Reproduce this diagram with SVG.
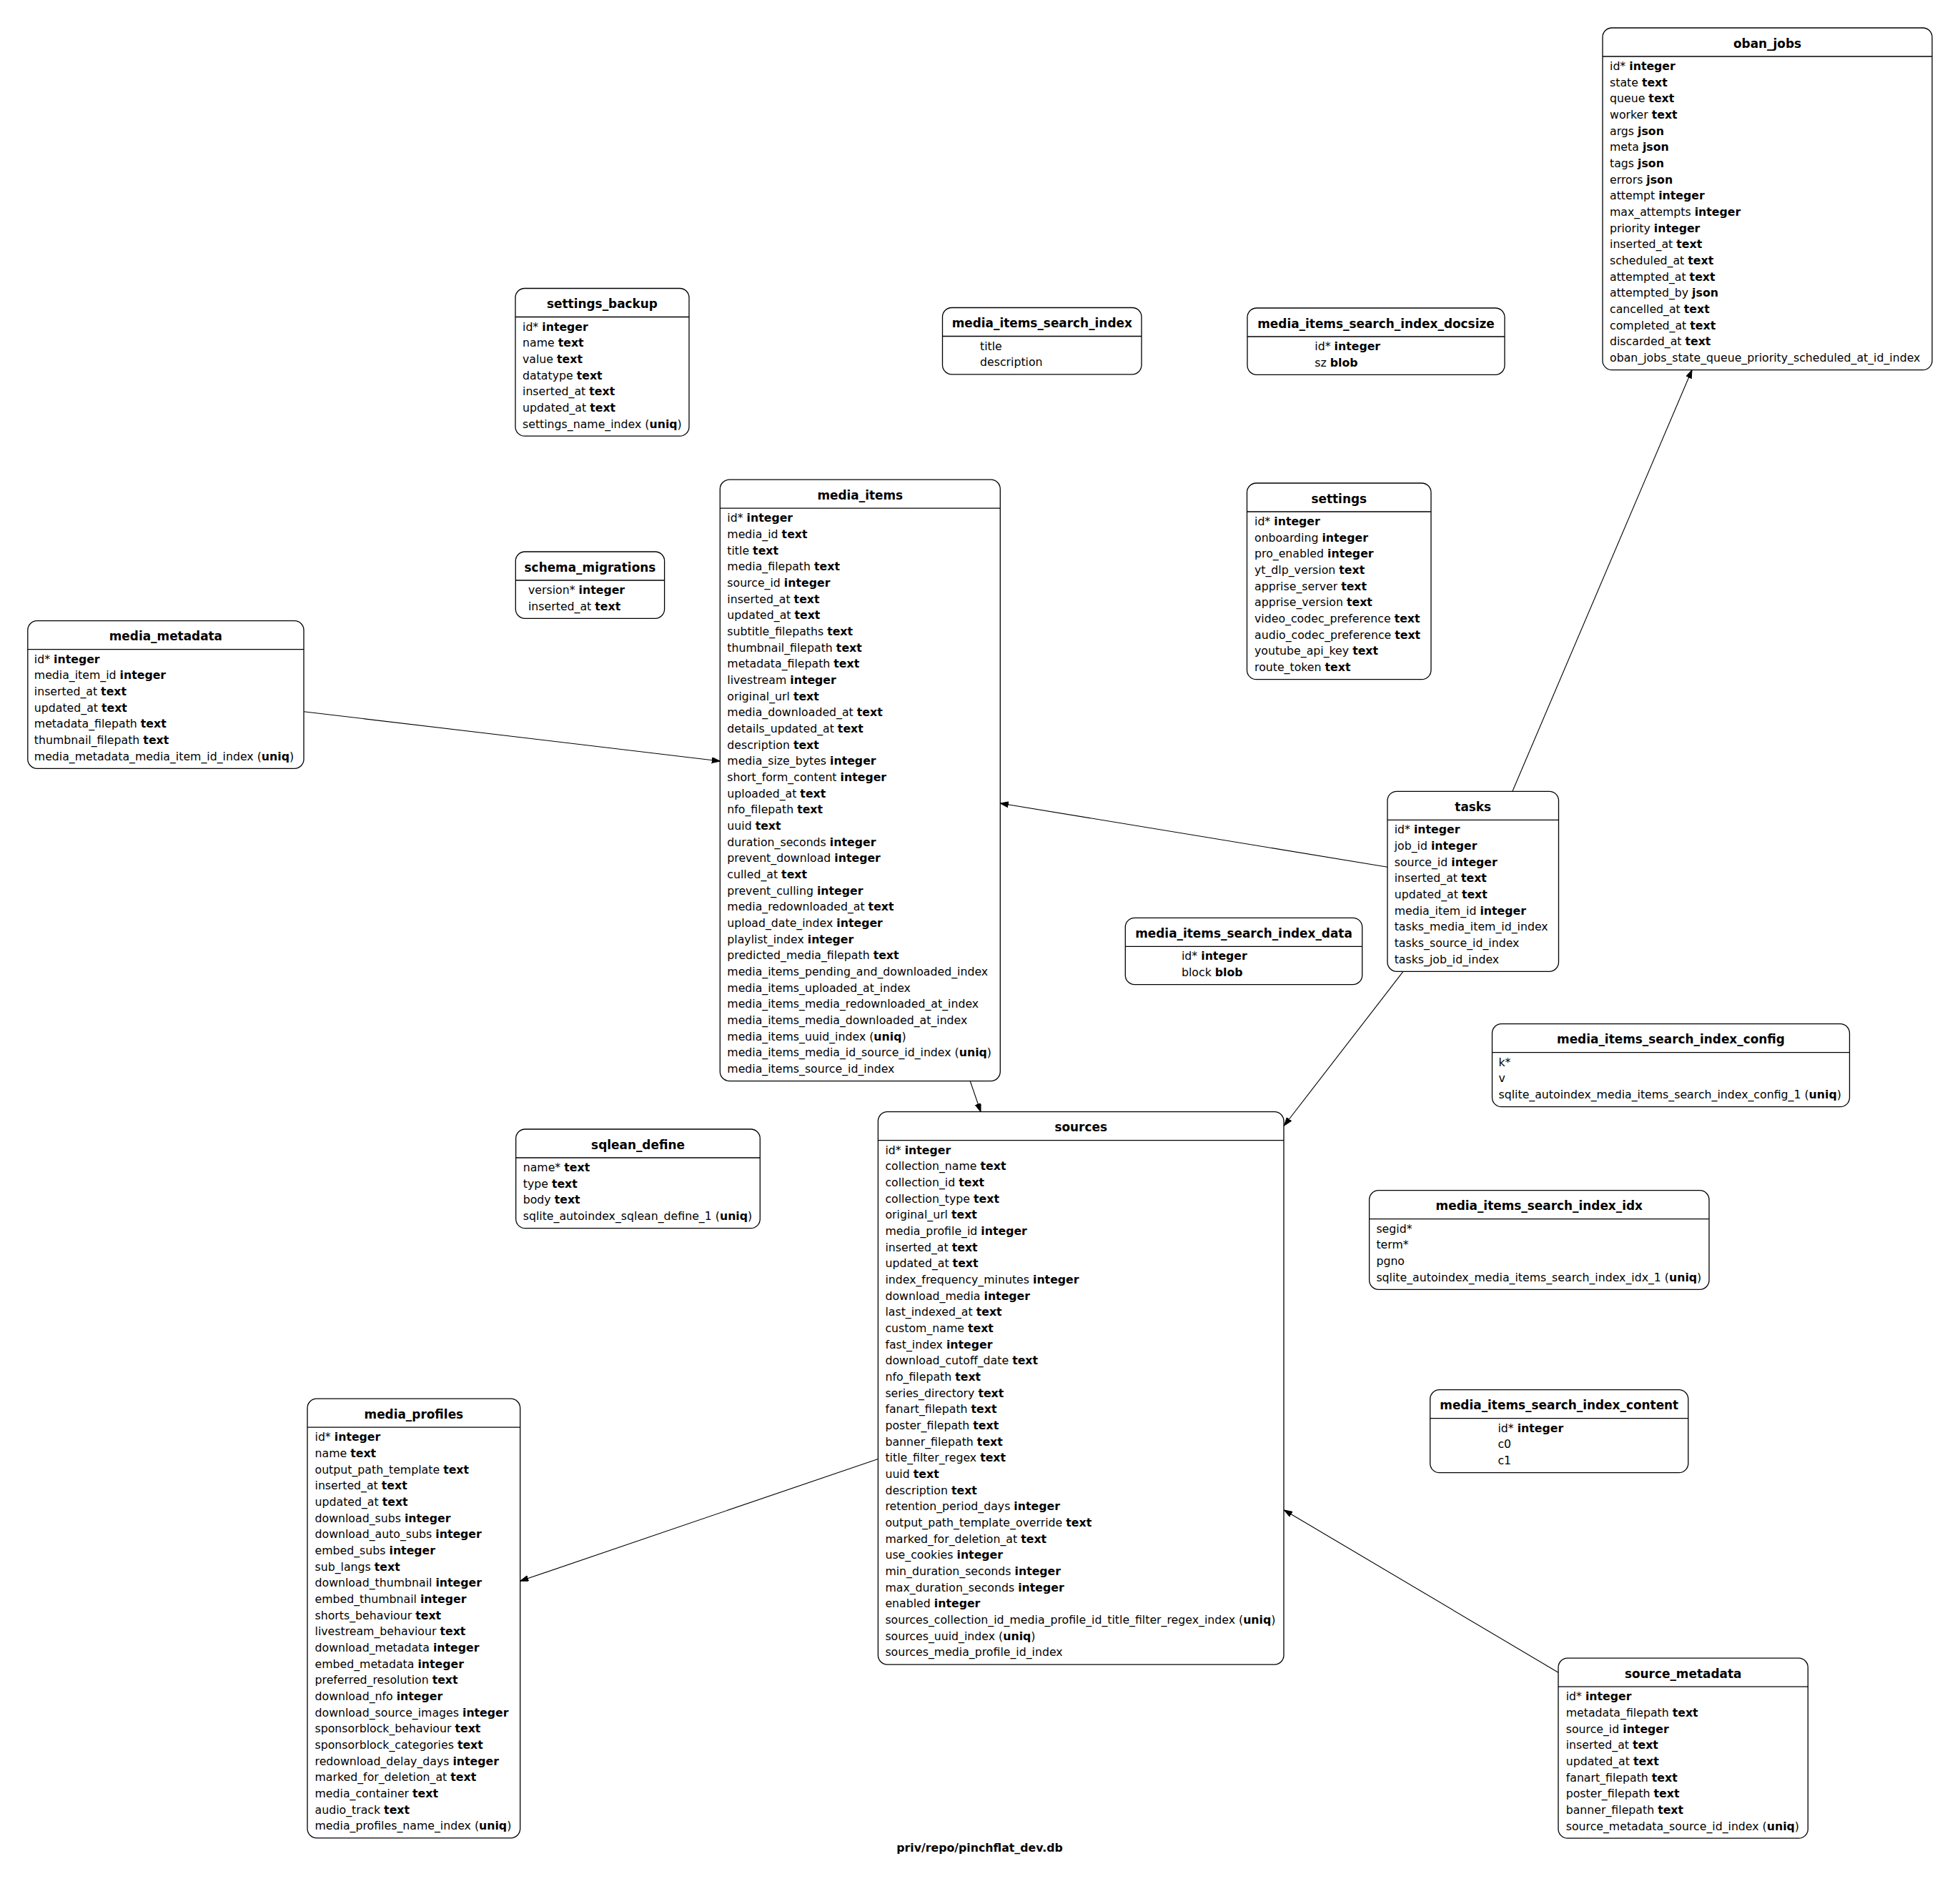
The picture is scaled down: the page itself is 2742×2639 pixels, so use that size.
<svg xmlns="http://www.w3.org/2000/svg" width="2742" height="2639" viewBox="0 0 2742 2639">
<style>
.box{fill:#fff;stroke:#000;stroke-width:1.3}
.sep{stroke:#000;stroke-width:1.3}
.t{font-family:"DejaVu Sans",sans-serif;font-size:16.9px;font-weight:bold;text-anchor:middle;fill:#000}
.r{font-family:"DejaVu Sans",sans-serif;font-size:15.75px;fill:#000}
.b{font-weight:bold}
.edge{stroke:#000;stroke-width:1.1;fill:none}
.lbl{font-family:"DejaVu Sans",sans-serif;font-size:15.75px;font-weight:bold;text-anchor:middle;fill:#000}
</style>
<defs>
<marker id="arr" markerUnits="userSpaceOnUse" markerWidth="13" markerHeight="10" refX="11.5" refY="4" orient="auto">
<path d="M0,0 L11.5,4 L0,8 z" fill="#000" stroke="#000" stroke-width="1"/>
</marker>
</defs>
<rect x="0" y="0" width="2742" height="2639" fill="#fff"/>

<g id="connectors">
<line class="edge" x1="425" y1="995.7" x2="1007.3" y2="1065" marker-end="url(#arr)"/>
<line class="edge" x1="1941" y1="1213.3" x2="1399.3" y2="1124" marker-end="url(#arr)"/>
<line class="edge" x1="2116" y1="1107" x2="2367" y2="517.7" marker-end="url(#arr)"/>
<line class="edge" x1="1963" y1="1359.3" x2="1796.5" y2="1575" marker-end="url(#arr)"/>
<line class="edge" x1="1357" y1="1512" x2="1372" y2="1555.7" marker-end="url(#arr)"/>
<line class="edge" x1="1228.4" y1="2041.5" x2="727.7" y2="2212.3" marker-end="url(#arr)"/>
<line class="edge" x1="2180" y1="2340.2" x2="1796.5" y2="2113" marker-end="url(#arr)"/>
</g>

<g id="oban_jobs" transform="translate(2242,39)">
<rect class="box" x="0" y="0" width="461" height="478.67" rx="13"/>
<line class="sep" x1="0" y1="40" x2="461" y2="40"/>
<text class="t" x="230.5" y="27.5">oban_jobs</text>
<text class="r" x="10" y="59">id* <tspan class="b">integer</tspan></text>
<text class="r" x="10" y="81.67">state <tspan class="b">text</tspan></text>
<text class="r" x="10" y="104.33">queue <tspan class="b">text</tspan></text>
<text class="r" x="10" y="127">worker <tspan class="b">text</tspan></text>
<text class="r" x="10" y="149.67">args <tspan class="b">json</tspan></text>
<text class="r" x="10" y="172.33">meta <tspan class="b">json</tspan></text>
<text class="r" x="10" y="195">tags <tspan class="b">json</tspan></text>
<text class="r" x="10" y="217.67">errors <tspan class="b">json</tspan></text>
<text class="r" x="10" y="240.33">attempt <tspan class="b">integer</tspan></text>
<text class="r" x="10" y="263">max_attempts <tspan class="b">integer</tspan></text>
<text class="r" x="10" y="285.67">priority <tspan class="b">integer</tspan></text>
<text class="r" x="10" y="308.33">inserted_at <tspan class="b">text</tspan></text>
<text class="r" x="10" y="331">scheduled_at <tspan class="b">text</tspan></text>
<text class="r" x="10" y="353.67">attempted_at <tspan class="b">text</tspan></text>
<text class="r" x="10" y="376.33">attempted_by <tspan class="b">json</tspan></text>
<text class="r" x="10" y="399">cancelled_at <tspan class="b">text</tspan></text>
<text class="r" x="10" y="421.67">completed_at <tspan class="b">text</tspan></text>
<text class="r" x="10" y="444.33">discarded_at <tspan class="b">text</tspan></text>
<text class="r" x="10" y="467">oban_jobs_state_queue_priority_scheduled_at_id_index</text>
</g>

<g id="settings_backup" transform="translate(721,403.5)">
<rect class="box" x="0" y="0" width="243" height="206.67" rx="13"/>
<line class="sep" x1="0" y1="40" x2="243" y2="40"/>
<text class="t" x="121.5" y="27.5">settings_backup</text>
<text class="r" x="10" y="59">id* <tspan class="b">integer</tspan></text>
<text class="r" x="10" y="81.67">name <tspan class="b">text</tspan></text>
<text class="r" x="10" y="104.33">value <tspan class="b">text</tspan></text>
<text class="r" x="10" y="127">datatype <tspan class="b">text</tspan></text>
<text class="r" x="10" y="149.67">inserted_at <tspan class="b">text</tspan></text>
<text class="r" x="10" y="172.33">updated_at <tspan class="b">text</tspan></text>
<text class="r" x="10" y="195">settings_name_index (<tspan class="b">uniq</tspan>)</text>
</g>

<g id="media_items_search_index" transform="translate(1318.5,430.5)">
<rect class="box" x="0" y="0" width="278.5" height="93.33" rx="13"/>
<line class="sep" x1="0" y1="40" x2="278.5" y2="40"/>
<text class="t" x="139.25" y="27.5">media_items_search_index</text>
<text class="r" x="52.5" y="59">title</text>
<text class="r" x="52.5" y="81.67">description</text>
</g>

<g id="media_items_search_index_docsize" transform="translate(1745,431)">
<rect class="box" x="0" y="0" width="360" height="93.33" rx="13"/>
<line class="sep" x1="0" y1="40" x2="360" y2="40"/>
<text class="t" x="180" y="27.5">media_items_search_index_docsize</text>
<text class="r" x="94.3" y="59">id* <tspan class="b">integer</tspan></text>
<text class="r" x="94.3" y="81.67">sz <tspan class="b">blob</tspan></text>
</g>

<g id="schema_migrations" transform="translate(721.3,772)">
<rect class="box" x="0" y="0" width="208.3" height="93.33" rx="13"/>
<line class="sep" x1="0" y1="40" x2="208.3" y2="40"/>
<text class="t" x="104.15" y="27.5">schema_migrations</text>
<text class="r" x="17.7" y="59">version* <tspan class="b">integer</tspan></text>
<text class="r" x="17.7" y="81.67">inserted_at <tspan class="b">text</tspan></text>
</g>

<g id="settings" transform="translate(1744.5,676)">
<rect class="box" x="0" y="0" width="257.5" height="274.67" rx="13"/>
<line class="sep" x1="0" y1="40" x2="257.5" y2="40"/>
<text class="t" x="128.75" y="27.5">settings</text>
<text class="r" x="10.5" y="59">id* <tspan class="b">integer</tspan></text>
<text class="r" x="10.5" y="81.67">onboarding <tspan class="b">integer</tspan></text>
<text class="r" x="10.5" y="104.33">pro_enabled <tspan class="b">integer</tspan></text>
<text class="r" x="10.5" y="127">yt_dlp_version <tspan class="b">text</tspan></text>
<text class="r" x="10.5" y="149.67">apprise_server <tspan class="b">text</tspan></text>
<text class="r" x="10.5" y="172.33">apprise_version <tspan class="b">text</tspan></text>
<text class="r" x="10.5" y="195">video_codec_preference <tspan class="b">text</tspan></text>
<text class="r" x="10.5" y="217.67">audio_codec_preference <tspan class="b">text</tspan></text>
<text class="r" x="10.5" y="240.33">youtube_api_key <tspan class="b">text</tspan></text>
<text class="r" x="10.5" y="263">route_token <tspan class="b">text</tspan></text>
</g>

<g id="media_metadata" transform="translate(38.8,868.7)">
<rect class="box" x="0" y="0" width="386.2" height="206.67" rx="13"/>
<line class="sep" x1="0" y1="40" x2="386.2" y2="40"/>
<text class="t" x="193.1" y="27.5">media_metadata</text>
<text class="r" x="9" y="59">id* <tspan class="b">integer</tspan></text>
<text class="r" x="9" y="81.67">media_item_id <tspan class="b">integer</tspan></text>
<text class="r" x="9" y="104.33">inserted_at <tspan class="b">text</tspan></text>
<text class="r" x="9" y="127">updated_at <tspan class="b">text</tspan></text>
<text class="r" x="9" y="149.67">metadata_filepath <tspan class="b">text</tspan></text>
<text class="r" x="9" y="172.33">thumbnail_filepath <tspan class="b">text</tspan></text>
<text class="r" x="9" y="195">media_metadata_media_item_id_index (<tspan class="b">uniq</tspan>)</text>
</g>

<g id="media_items" transform="translate(1007.3,671.2)">
<rect class="box" x="0" y="0" width="392" height="841.33" rx="13"/>
<line class="sep" x1="0" y1="40" x2="392" y2="40"/>
<text class="t" x="196" y="27.5">media_items</text>
<text class="r" x="10" y="59">id* <tspan class="b">integer</tspan></text>
<text class="r" x="10" y="81.67">media_id <tspan class="b">text</tspan></text>
<text class="r" x="10" y="104.33">title <tspan class="b">text</tspan></text>
<text class="r" x="10" y="127">media_filepath <tspan class="b">text</tspan></text>
<text class="r" x="10" y="149.67">source_id <tspan class="b">integer</tspan></text>
<text class="r" x="10" y="172.33">inserted_at <tspan class="b">text</tspan></text>
<text class="r" x="10" y="195">updated_at <tspan class="b">text</tspan></text>
<text class="r" x="10" y="217.67">subtitle_filepaths <tspan class="b">text</tspan></text>
<text class="r" x="10" y="240.33">thumbnail_filepath <tspan class="b">text</tspan></text>
<text class="r" x="10" y="263">metadata_filepath <tspan class="b">text</tspan></text>
<text class="r" x="10" y="285.67">livestream <tspan class="b">integer</tspan></text>
<text class="r" x="10" y="308.33">original_url <tspan class="b">text</tspan></text>
<text class="r" x="10" y="331">media_downloaded_at <tspan class="b">text</tspan></text>
<text class="r" x="10" y="353.67">details_updated_at <tspan class="b">text</tspan></text>
<text class="r" x="10" y="376.33">description <tspan class="b">text</tspan></text>
<text class="r" x="10" y="399">media_size_bytes <tspan class="b">integer</tspan></text>
<text class="r" x="10" y="421.67">short_form_content <tspan class="b">integer</tspan></text>
<text class="r" x="10" y="444.33">uploaded_at <tspan class="b">text</tspan></text>
<text class="r" x="10" y="467">nfo_filepath <tspan class="b">text</tspan></text>
<text class="r" x="10" y="489.67">uuid <tspan class="b">text</tspan></text>
<text class="r" x="10" y="512.33">duration_seconds <tspan class="b">integer</tspan></text>
<text class="r" x="10" y="535">prevent_download <tspan class="b">integer</tspan></text>
<text class="r" x="10" y="557.67">culled_at <tspan class="b">text</tspan></text>
<text class="r" x="10" y="580.33">prevent_culling <tspan class="b">integer</tspan></text>
<text class="r" x="10" y="603">media_redownloaded_at <tspan class="b">text</tspan></text>
<text class="r" x="10" y="625.67">upload_date_index <tspan class="b">integer</tspan></text>
<text class="r" x="10" y="648.33">playlist_index <tspan class="b">integer</tspan></text>
<text class="r" x="10" y="671">predicted_media_filepath <tspan class="b">text</tspan></text>
<text class="r" x="10" y="693.67">media_items_pending_and_downloaded_index</text>
<text class="r" x="10" y="716.33">media_items_uploaded_at_index</text>
<text class="r" x="10" y="739">media_items_media_redownloaded_at_index</text>
<text class="r" x="10" y="761.67">media_items_media_downloaded_at_index</text>
<text class="r" x="10" y="784.33">media_items_uuid_index (<tspan class="b">uniq</tspan>)</text>
<text class="r" x="10" y="807">media_items_media_id_source_id_index (<tspan class="b">uniq</tspan>)</text>
<text class="r" x="10" y="829.67">media_items_source_id_index</text>
</g>

<g id="tasks" transform="translate(1941,1107.3)">
<rect class="box" x="0" y="0" width="239.5" height="252" rx="13"/>
<line class="sep" x1="0" y1="40" x2="239.5" y2="40"/>
<text class="t" x="119.75" y="27.5">tasks</text>
<text class="r" x="9.7" y="59">id* <tspan class="b">integer</tspan></text>
<text class="r" x="9.7" y="81.67">job_id <tspan class="b">integer</tspan></text>
<text class="r" x="9.7" y="104.33">source_id <tspan class="b">integer</tspan></text>
<text class="r" x="9.7" y="127">inserted_at <tspan class="b">text</tspan></text>
<text class="r" x="9.7" y="149.67">updated_at <tspan class="b">text</tspan></text>
<text class="r" x="9.7" y="172.33">media_item_id <tspan class="b">integer</tspan></text>
<text class="r" x="9.7" y="195">tasks_media_item_id_index</text>
<text class="r" x="9.7" y="217.67">tasks_source_id_index</text>
<text class="r" x="9.7" y="240.33">tasks_job_id_index</text>
</g>

<g id="media_items_search_index_data" transform="translate(1574.3,1284.3)">
<rect class="box" x="0" y="0" width="331.4" height="93.33" rx="13"/>
<line class="sep" x1="0" y1="40" x2="331.4" y2="40"/>
<text class="t" x="165.7" y="27.5">media_items_search_index_data</text>
<text class="r" x="78.7" y="59">id* <tspan class="b">integer</tspan></text>
<text class="r" x="78.7" y="81.67">block <tspan class="b">blob</tspan></text>
</g>

<g id="media_items_search_index_config" transform="translate(2087.5,1432.7)">
<rect class="box" x="0" y="0" width="500" height="116" rx="13"/>
<line class="sep" x1="0" y1="40" x2="500" y2="40"/>
<text class="t" x="250" y="27.5">media_items_search_index_config</text>
<text class="r" x="9" y="59">k*</text>
<text class="r" x="9" y="81.67">v</text>
<text class="r" x="9" y="104.33">sqlite_autoindex_media_items_search_index_config_1 (<tspan class="b">uniq</tspan>)</text>
</g>

<g id="sqlean_define" transform="translate(721.7,1580)">
<rect class="box" x="0" y="0" width="341.6" height="138.67" rx="13"/>
<line class="sep" x1="0" y1="40" x2="341.6" y2="40"/>
<text class="t" x="170.8" y="27.5">sqlean_define</text>
<text class="r" x="10" y="59">name* <tspan class="b">text</tspan></text>
<text class="r" x="10" y="81.67">type <tspan class="b">text</tspan></text>
<text class="r" x="10" y="104.33">body <tspan class="b">text</tspan></text>
<text class="r" x="10" y="127">sqlite_autoindex_sqlean_define_1 (<tspan class="b">uniq</tspan>)</text>
</g>

<g id="sources" transform="translate(1228.4,1555.7)">
<rect class="box" x="0" y="0" width="567.6" height="773.33" rx="13"/>
<line class="sep" x1="0" y1="40" x2="567.6" y2="40"/>
<text class="t" x="283.8" y="27.5">sources</text>
<text class="r" x="10" y="59">id* <tspan class="b">integer</tspan></text>
<text class="r" x="10" y="81.67">collection_name <tspan class="b">text</tspan></text>
<text class="r" x="10" y="104.33">collection_id <tspan class="b">text</tspan></text>
<text class="r" x="10" y="127">collection_type <tspan class="b">text</tspan></text>
<text class="r" x="10" y="149.67">original_url <tspan class="b">text</tspan></text>
<text class="r" x="10" y="172.33">media_profile_id <tspan class="b">integer</tspan></text>
<text class="r" x="10" y="195">inserted_at <tspan class="b">text</tspan></text>
<text class="r" x="10" y="217.67">updated_at <tspan class="b">text</tspan></text>
<text class="r" x="10" y="240.33">index_frequency_minutes <tspan class="b">integer</tspan></text>
<text class="r" x="10" y="263">download_media <tspan class="b">integer</tspan></text>
<text class="r" x="10" y="285.67">last_indexed_at <tspan class="b">text</tspan></text>
<text class="r" x="10" y="308.33">custom_name <tspan class="b">text</tspan></text>
<text class="r" x="10" y="331">fast_index <tspan class="b">integer</tspan></text>
<text class="r" x="10" y="353.67">download_cutoff_date <tspan class="b">text</tspan></text>
<text class="r" x="10" y="376.33">nfo_filepath <tspan class="b">text</tspan></text>
<text class="r" x="10" y="399">series_directory <tspan class="b">text</tspan></text>
<text class="r" x="10" y="421.67">fanart_filepath <tspan class="b">text</tspan></text>
<text class="r" x="10" y="444.33">poster_filepath <tspan class="b">text</tspan></text>
<text class="r" x="10" y="467">banner_filepath <tspan class="b">text</tspan></text>
<text class="r" x="10" y="489.67">title_filter_regex <tspan class="b">text</tspan></text>
<text class="r" x="10" y="512.33">uuid <tspan class="b">text</tspan></text>
<text class="r" x="10" y="535">description <tspan class="b">text</tspan></text>
<text class="r" x="10" y="557.67">retention_period_days <tspan class="b">integer</tspan></text>
<text class="r" x="10" y="580.33">output_path_template_override <tspan class="b">text</tspan></text>
<text class="r" x="10" y="603">marked_for_deletion_at <tspan class="b">text</tspan></text>
<text class="r" x="10" y="625.67">use_cookies <tspan class="b">integer</tspan></text>
<text class="r" x="10" y="648.33">min_duration_seconds <tspan class="b">integer</tspan></text>
<text class="r" x="10" y="671">max_duration_seconds <tspan class="b">integer</tspan></text>
<text class="r" x="10" y="693.67">enabled <tspan class="b">integer</tspan></text>
<text class="r" x="10" y="716.33">sources_collection_id_media_profile_id_title_filter_regex_index (<tspan class="b">uniq</tspan>)</text>
<text class="r" x="10" y="739">sources_uuid_index (<tspan class="b">uniq</tspan>)</text>
<text class="r" x="10" y="761.67">sources_media_profile_id_index</text>
</g>

<g id="media_items_search_index_idx" transform="translate(1915.6,1665.7)">
<rect class="box" x="0" y="0" width="475.4" height="138.67" rx="13"/>
<line class="sep" x1="0" y1="40" x2="475.4" y2="40"/>
<text class="t" x="237.7" y="27.5">media_items_search_index_idx</text>
<text class="r" x="9.8" y="59">segid*</text>
<text class="r" x="9.8" y="81.67">term*</text>
<text class="r" x="9.8" y="104.33">pgno</text>
<text class="r" x="9.8" y="127">sqlite_autoindex_media_items_search_index_idx_1 (<tspan class="b">uniq</tspan>)</text>
</g>

<g id="media_profiles" transform="translate(430,1957.2)">
<rect class="box" x="0" y="0" width="297.7" height="614.67" rx="13"/>
<line class="sep" x1="0" y1="40" x2="297.7" y2="40"/>
<text class="t" x="148.85" y="27.5">media_profiles</text>
<text class="r" x="10.5" y="59">id* <tspan class="b">integer</tspan></text>
<text class="r" x="10.5" y="81.67">name <tspan class="b">text</tspan></text>
<text class="r" x="10.5" y="104.33">output_path_template <tspan class="b">text</tspan></text>
<text class="r" x="10.5" y="127">inserted_at <tspan class="b">text</tspan></text>
<text class="r" x="10.5" y="149.67">updated_at <tspan class="b">text</tspan></text>
<text class="r" x="10.5" y="172.33">download_subs <tspan class="b">integer</tspan></text>
<text class="r" x="10.5" y="195">download_auto_subs <tspan class="b">integer</tspan></text>
<text class="r" x="10.5" y="217.67">embed_subs <tspan class="b">integer</tspan></text>
<text class="r" x="10.5" y="240.33">sub_langs <tspan class="b">text</tspan></text>
<text class="r" x="10.5" y="263">download_thumbnail <tspan class="b">integer</tspan></text>
<text class="r" x="10.5" y="285.67">embed_thumbnail <tspan class="b">integer</tspan></text>
<text class="r" x="10.5" y="308.33">shorts_behaviour <tspan class="b">text</tspan></text>
<text class="r" x="10.5" y="331">livestream_behaviour <tspan class="b">text</tspan></text>
<text class="r" x="10.5" y="353.67">download_metadata <tspan class="b">integer</tspan></text>
<text class="r" x="10.5" y="376.33">embed_metadata <tspan class="b">integer</tspan></text>
<text class="r" x="10.5" y="399">preferred_resolution <tspan class="b">text</tspan></text>
<text class="r" x="10.5" y="421.67">download_nfo <tspan class="b">integer</tspan></text>
<text class="r" x="10.5" y="444.33">download_source_images <tspan class="b">integer</tspan></text>
<text class="r" x="10.5" y="467">sponsorblock_behaviour <tspan class="b">text</tspan></text>
<text class="r" x="10.5" y="489.67">sponsorblock_categories <tspan class="b">text</tspan></text>
<text class="r" x="10.5" y="512.33">redownload_delay_days <tspan class="b">integer</tspan></text>
<text class="r" x="10.5" y="535">marked_for_deletion_at <tspan class="b">text</tspan></text>
<text class="r" x="10.5" y="557.67">media_container <tspan class="b">text</tspan></text>
<text class="r" x="10.5" y="580.33">audio_track <tspan class="b">text</tspan></text>
<text class="r" x="10.5" y="603">media_profiles_name_index (<tspan class="b">uniq</tspan>)</text>
</g>

<g id="media_items_search_index_content" transform="translate(2000.7,1944.7)">
<rect class="box" x="0" y="0" width="361.1" height="116" rx="13"/>
<line class="sep" x1="0" y1="40" x2="361.1" y2="40"/>
<text class="t" x="180.55" y="27.5">media_items_search_index_content</text>
<text class="r" x="94.7" y="59">id* <tspan class="b">integer</tspan></text>
<text class="r" x="94.7" y="81.67">c0</text>
<text class="r" x="94.7" y="104.33">c1</text>
</g>

<g id="source_metadata" transform="translate(2180,2320.2)">
<rect class="box" x="0" y="0" width="349.3" height="252" rx="13"/>
<line class="sep" x1="0" y1="40" x2="349.3" y2="40"/>
<text class="t" x="174.65" y="27.5">source_metadata</text>
<text class="r" x="10.7" y="59">id* <tspan class="b">integer</tspan></text>
<text class="r" x="10.7" y="81.67">metadata_filepath <tspan class="b">text</tspan></text>
<text class="r" x="10.7" y="104.33">source_id <tspan class="b">integer</tspan></text>
<text class="r" x="10.7" y="127">inserted_at <tspan class="b">text</tspan></text>
<text class="r" x="10.7" y="149.67">updated_at <tspan class="b">text</tspan></text>
<text class="r" x="10.7" y="172.33">fanart_filepath <tspan class="b">text</tspan></text>
<text class="r" x="10.7" y="195">poster_filepath <tspan class="b">text</tspan></text>
<text class="r" x="10.7" y="217.67">banner_filepath <tspan class="b">text</tspan></text>
<text class="r" x="10.7" y="240.33">source_metadata_source_id_index (<tspan class="b">uniq</tspan>)</text>
</g>

<text class="lbl" x="1370.5" y="2591">priv/repo/pinchflat_dev.db</text>
</svg>
